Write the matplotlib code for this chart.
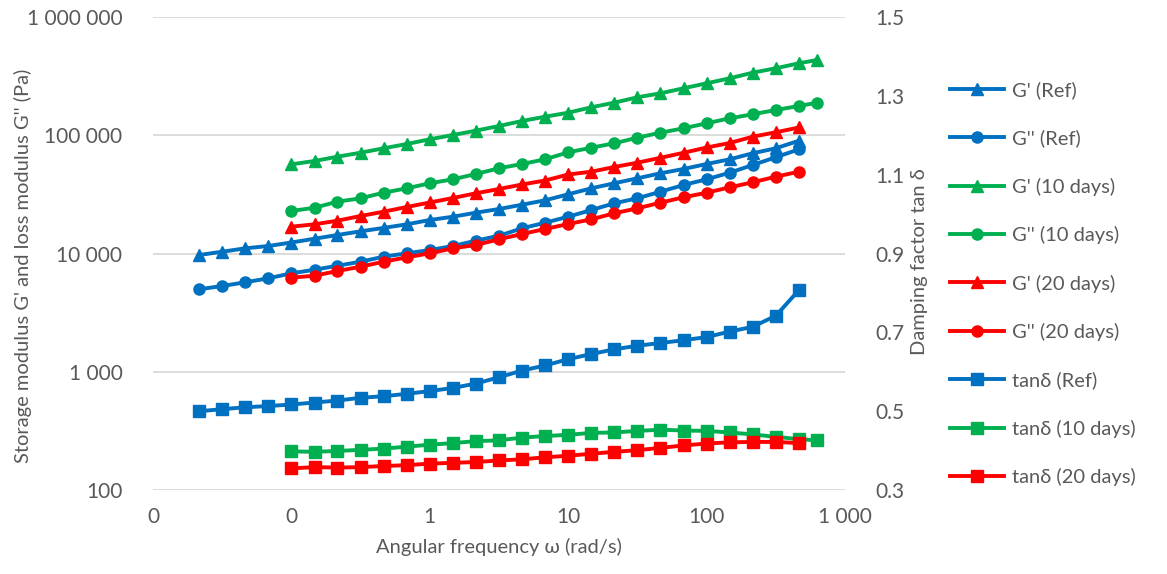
import matplotlib
matplotlib.use('Agg')

import numpy as np
from matplotlib import pyplot as plt
from matplotlib.ticker import FixedLocator, FixedFormatter, NullLocator

plt.rcParams['font.family'] = ['Lato', 'DejaVu Sans']

# angular frequency (rad/s), 6 points per decade
w_ref = [0.0215, 0.0316, 0.0464, 0.0681, 0.1, 0.147, 0.215, 0.316, 0.464, 0.681,
         1.0, 1.47, 2.15, 3.16, 4.64, 6.81, 10.0, 14.7, 21.5, 31.6, 46.4, 68.1,
         100.0, 147.0, 215.0, 316.0, 464.0]
w_10 = w_ref[4:] + [628.0]
w_20 = w_ref[4:]

# G' / G'' (Pa)
gp_ref = [9710, 10350, 11060, 11570, 12390, 13340, 14340, 15400, 16460, 17650,
          19200, 20480, 22130, 23780, 25860, 28180, 31670, 35600, 39250, 43250,
          47670, 51840, 57130, 62610, 70390, 77560, 89900]
gpp_ref = [4984, 5310, 5710, 6170, 6800, 7290, 7885, 8520, 9400, 10040,
           10700, 11570, 12830, 14140, 16330, 18220, 20480, 23330, 26580, 29300,
           33310, 37960, 42410, 48240, 56030, 65090, 76060]
gp_10 = [56810, 60560, 65860, 71190, 77560, 84330, 92430, 100500, 109300, 119700,
         132000, 143500, 155100, 172400, 188500, 209400, 226300, 249500, 275000,
         303100, 338100, 368300, 406000, 432900]
gpp_10 = [22880, 24400, 27420, 29300, 32680, 35600, 39250, 42410, 47020, 52550,
          57130, 62610, 71750, 78470, 85500, 95350, 105100, 114500, 126200,
          139100, 150400, 163500, 176800, 188500]
gp_20 = [16850, 17660, 18940, 20760, 22570, 24730, 27000, 29470, 32290, 35120,
         38330, 41430, 46570, 49180, 53890, 58600, 64470, 71060, 78780, 86000,
         97200, 105900, 116300]
gpp_20 = [6243, 6492, 7112, 7734, 8523, 9288, 10040, 11070, 11800, 13190,
          14620, 16120, 17760, 19460, 21880, 24110, 26890, 29880, 32680, 36290,
          40000, 44620, 49180]

# damping factor tan delta
tan_ref = [0.500, 0.505, 0.510, 0.513, 0.517, 0.522, 0.527, 0.534, 0.538, 0.544,
           0.551, 0.559, 0.570, 0.586, 0.603, 0.616, 0.632, 0.645, 0.657, 0.666,
           0.673, 0.680, 0.688, 0.702, 0.714, 0.742, 0.807]
tan_10 = [0.398, 0.397, 0.399, 0.402, 0.405, 0.410, 0.415, 0.419, 0.424, 0.426,
          0.433, 0.437, 0.440, 0.445, 0.446, 0.450, 0.453, 0.451, 0.450, 0.446,
          0.441, 0.435, 0.429, 0.426]
tan_20 = [0.355, 0.358, 0.357, 0.358, 0.361, 0.363, 0.367, 0.369, 0.371, 0.375,
          0.378, 0.383, 0.387, 0.392, 0.397, 0.401, 0.407, 0.413, 0.418, 0.421,
          0.422, 0.422, 0.419]

x_ticks = [0.01, 0.1, 1, 10, 100, 1000]
x_labels = ['0', '0', '1', '10', '100', '1 000']
y_ticks = [100, 1000, 10000, 100000, 1000000]
y_labels = ['100', '1 000', '10 000', '100 000', '1 000 000']
y2_ticks = [0.3, 0.5, 0.7, 0.9, 1.1, 1.3, 1.5]

BLUE = '#0070C0'
GREEN = '#00B050'
RED = '#FF0000'
TXT = '#595959'
FS = 14.5

fig = plt.figure(figsize=(11.67, 5.74), dpi=100)
ax = fig.add_axes([0.1311, 0.1463, 0.5930, 0.8241])
ax2 = ax.twinx()

lw = 2.8
ms = 8
h = []
h += ax.plot(w_ref, gp_ref, color=BLUE, marker='^', lw=lw, ms=ms + 1, label="G' (Ref)")
h += ax.plot(w_ref, gpp_ref, color=BLUE, marker='o', lw=lw, ms=ms, label="G'' (Ref)")
h += ax.plot(w_10, gp_10, color=GREEN, marker='^', lw=lw, ms=ms + 1, label="G' (10 days)")
h += ax.plot(w_10, gpp_10, color=GREEN, marker='o', lw=lw, ms=ms, label="G'' (10 days)")
h += ax.plot(w_20, gp_20, color=RED, marker='^', lw=lw, ms=ms + 1, label="G' (20 days)")
h += ax.plot(w_20, gpp_20, color=RED, marker='o', lw=lw, ms=ms, label="G'' (20 days)")
h += ax2.plot(w_ref, tan_ref, color=BLUE, marker='s', lw=lw, ms=ms, label="tanδ (Ref)")
h += ax2.plot(w_10, tan_10, color=GREEN, marker='s', lw=lw, ms=ms, label="tanδ (10 days)")
h += ax2.plot(w_20, tan_20, color=RED, marker='s', lw=lw, ms=ms, label="tanδ (20 days)")

ax.set_xscale('log')
ax.set_yscale('log')
ax.set_xlim(0.01, 1000)
ax.set_ylim(100, 1000000)
ax2.set_ylim(0.3, 1.5)

ax.xaxis.set_major_locator(FixedLocator(x_ticks))
ax.xaxis.set_major_formatter(FixedFormatter(x_labels))
ax.xaxis.set_minor_locator(NullLocator())
ax.yaxis.set_major_locator(FixedLocator(y_ticks))
ax.yaxis.set_major_formatter(FixedFormatter(y_labels))
ax.yaxis.set_minor_locator(NullLocator())
ax2.set_yticks(y2_ticks)
ax2.set_yticklabels(['%.1f' % v for v in y2_ticks])

ax.grid(axis='y', color='#d9d9d9', lw=1.3)
ax.set_axisbelow(True)
for a in (ax, ax2):
    for s in a.spines.values():
        s.set_visible(False)
    a.tick_params(length=0, labelsize=15, colors=TXT)
ax.tick_params(axis='y', pad=22)
ax.tick_params(axis='x', pad=12)
ax2.tick_params(axis='y', pad=22)

ax.set_xlabel('Angular frequency ω (rad/s)', fontsize=FS, color=TXT, labelpad=8)
ax.set_ylabel("Storage modulus G' and loss modulus G'' (Pa)", fontsize=FS, color=TXT)
ax.yaxis.set_label_coords(-0.175, 0.474)
ax2.set_ylabel('Damping factor tan δ', fontsize=FS, color=TXT)
ax2.yaxis.set_label_coords(1.095, 0.482)

leg = fig.legend(handles=h, loc='center left', bbox_to_anchor=(0.814, 0.506),
                 frameon=False, fontsize=FS, labelspacing=1.51, handlelength=2.7,
                 handletextpad=0.4, borderpad=0, borderaxespad=0)
for t in leg.get_texts():
    t.set_color(TXT)

fig.savefig('out.png', dpi=100)
